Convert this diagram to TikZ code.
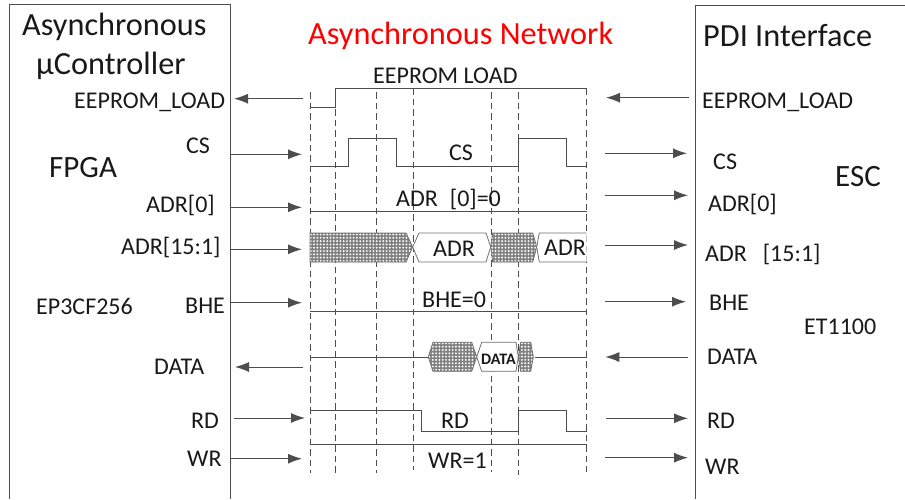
\documentclass[tikz,border=0pt]{standalone}
\usepackage{fontspec}
\setmainfont{Carlito}
\usetikzlibrary{arrows.meta,patterns}
\definecolor{vonal}{HTML}{4D4D4D}
\pgfdeclarepatternformonly{pontok}{\pgfqpoint{-1.2pt}{-1.2pt}}{\pgfqpoint{2.2pt}{2.2pt}}{\pgfqpoint{3.3pt}{3.3pt}}{
  \pgfpathcircle{\pgfqpoint{0.5pt}{0.5pt}}{1.05pt}\pgfusepath{fill}}
\tikzset{
  felirat/.style={anchor=base west,inner sep=0pt,yshift=-1pt,font=\fontsize{24}{28}\selectfont,text=black!90},
  nagy/.style={felirat,yshift=-1.5pt,font=\fontsize{32.3}{36}\selectfont},
  kozep/.style={felirat,font=\fontsize{31}{35}\selectfont},
  doboz/.style={draw=vonal,line width=0.9pt},
  nyil/.style={draw=vonal,line width=1pt,-{Latex[length=14pt,width=10pt]}},
  jel/.style={draw=vonal,line width=0.9pt},
  szagg/.style={draw=vonal,line width=0.9pt,dash pattern=on 6.5pt off 4pt},
  hatsz/.style={draw=vonal!80,line width=0.8pt,fill=white},
  pontos/.style={draw=vonal!80,line width=0.8pt,preaction={fill=black!50},pattern=pontok,pattern color=white},
}
\begin{document}
\begin{tikzpicture}[x=1pt,y=-1pt]
  \useasboundingbox (0,0) rectangle (905,499);
  % two blocks
  \draw[doboz] (9.3,499) -- (9.3,4.7) -- (230.3,4.7) -- (230.3,499);
  \draw[doboz] (905,5) -- (695.7,5) -- (695.7,499);
  % dashed time marks
  \foreach \x/\a/\b in {310/92/473,335.7/88/473,376.7/92/473,413/88/470,491.7/92/472,518/92/475,586.7/88/472}
    \draw[szagg] (\x,\a) -- (\x,\b);
  % arrows on both sides
  \foreach \n/\a/\b/\y in {ee/303/234/98.7,cs/230.3/302/154.3,az/230.3/302/207.3,ad/230.3/302/249.3,
      bh/230.3/302/302.7,da/303/235/367,rd/234/305/418,wr/230.3/302/458.7,
      eer/689/606/97.7,csr/605/687/153.3,azr/605/688/195.3,adr/605/688/245,
      bhr/605/686/301.7,dar/688/605.3/357,rdr/606/688/418.3,wrr/605/688/457.7}{
    \coordinate (\n k) at (\a,\y);
    \coordinate (\n v) at (\b,\y);
    \draw[nyil] (\n k) -- (\n v);
  }
  % waveforms
  \draw[jel] (310,107) -- (335.7,107) -- (335.7,88) -- (586.7,88);
  \draw[jel] (310,166.7) -| (348.3,138) -| (396,166.7) -| (518,138) -| (566.7,166.7) -- (586.7,166.7);
  \draw[jel] (310,211.7) -- (586.7,211.7);
  \draw[jel] (310,311.7) -- (586.7,311.7);
  \draw[jel] (310,410.3) -| (421,431.3) -| (518,410.3) -| (566.7,431.3) -- (586.7,431.3);
  \draw[jel] (310,444.7) -- (586.7,444.7);
  \draw[jel] (310,357) -- (428.3,357);
  \draw[jel] (534.7,357) -- (586.7,357);
  % address bus
  \draw[pontos] (310,233) -- (406,233) -- (412.7,247) -- (406,262) -- (310,262) -- cycle;
  \draw[hatsz] (412.7,247) -- (419,233) -- (486,233) -- (490.7,247) -- (486,262) -- (419,262) -- cycle;
  \draw[pontos] (490.7,247) -- (492.7,233) -- (532.7,233) -- (536.7,247) -- (532.7,262) -- (492.7,262) -- cycle;
  \draw[hatsz] (586.7,233) -- (539.3,233) -- (536.7,247) -- (539.3,262) -- (586.7,262);
  % data bus
  \draw[pontos] (428.3,357) -- (433,342.3) -- (471.7,342.3) -- (476.7,357) -- (471.7,371.3) -- (433,371.3) -- cycle;
  \draw[hatsz] (476.7,357) -- (481.7,342.3) -- (516,342.3) -- (518.3,357) -- (516,371.3) -- (481.7,371.3) -- cycle;
  \draw[pontos] (518.3,357) -- (520.7,342.3) -- (530.7,342.3) -- (533.3,357) -- (530.7,371.3) -- (520.7,371.3) -- cycle;
  % left block
  \node[nagy] (mc1) at (22,33) {Asynchronous};
  \node[nagy] (mc2) at (36,72) {µController};
  \node[felirat] (leeprom) at (74,107) {EEPROM\_LOAD};
  \node[felirat] (lcs) at (186,152) {CS};
  \node[kozep] (fpga) at (49,176) {FPGA};
  \node[felirat] (ladr0) at (146,211) {ADR[0]};
  \node[felirat] (ladr) at (121,253) {ADR[15:1]};
  \node[felirat] (ep3) at (36,313) {EP3CF256};
  \node[felirat] (lbhe) at (185,312) {BHE};
  \node[felirat] (ldata) at (154,373) {DATA};
  \node[felirat] (lrd) at (191,427) {RD};
  \node[felirat] (lwr) at (187,465) {WR};
  % middle
  \node[nagy,text=red] (net) at (308,42) {Asynchronous Network};
  \node[felirat] (meeprom) at (373,82) {EEPROM LOAD};
  \node[felirat] (mcs) at (449,159) {CS};
  \node[felirat] (madr0) at (396,205) {ADR\hspace{12pt}[0]=0};
  \node[felirat] (madr1) at (433,255) {ADR};
  \node[felirat] (madr2) at (544,254) {ADR};
  \node[felirat] (mbhe) at (422,306) {BHE=0};
  \node[felirat,font=\fontsize{16}{18}\selectfont\bfseries] (mdata) at (481,363) {DATA};
  \node[felirat] (mrd) at (441,427) {RD};
  \node[felirat] (mwr) at (428,467) {WR=1};
  % right block
  \node[nagy] (pdi) at (703,44) {PDI Interface};
  \node[felirat] (reeprom) at (702,107) {EEPROM\_LOAD};
  \node[felirat] (rcs) at (713,168) {CS};
  \node[kozep] (esc) at (835,185) {ESC};
  \node[felirat] (radr0) at (708,210) {ADR[0]};
  \node[felirat] (radr) at (705,260) {ADR\hspace{16pt}[15:1]};
  \node[felirat] (rbhe) at (709,309) {BHE};
  \node[felirat] (et) at (804,333) {ET1100};
  \node[felirat] (rdata) at (707,363) {DATA};
  \node[felirat] (rrd) at (707,427) {RD};
  \node[felirat] (rwr) at (705,473) {WR};
\end{tikzpicture}
\end{document}
